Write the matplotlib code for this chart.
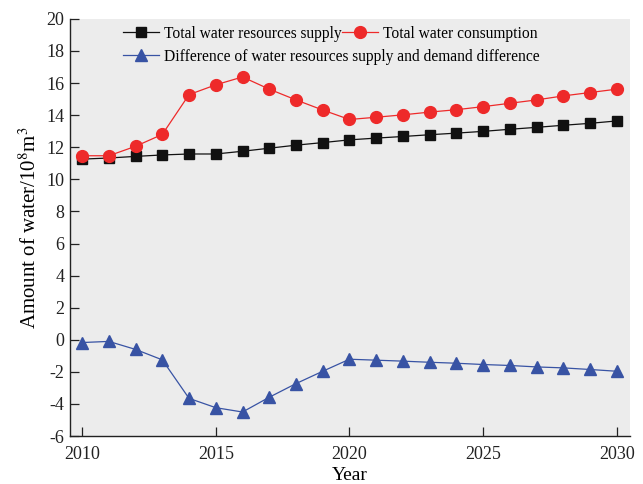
import matplotlib
matplotlib.use('Agg')
import matplotlib.pyplot as plt

plt.rcParams['font.family'] = ['Liberation Serif', 'DejaVu Serif']
plt.rcParams['mathtext.fontset'] = 'stix'
plt.rcParams['axes.unicode_minus'] = False

years = list(range(2010, 2031))
supply = [11.26, 11.33, 11.43, 11.52, 11.58, 11.58, 11.75, 11.94, 12.13, 12.29, 12.46,
          12.57, 12.67, 12.78, 12.88, 12.99, 13.12, 13.24, 13.37, 13.49, 13.64]
consumption = [11.47, 11.47, 12.06, 12.80, 15.28, 15.89, 16.38, 15.62, 14.95, 14.32, 13.73,
               13.87, 14.02, 14.19, 14.34, 14.53, 14.74, 14.95, 15.20, 15.41, 15.62]
difference = [-0.17, -0.10, -0.60, -1.25, -3.65, -4.23, -4.50, -3.58, -2.73, -1.96, -1.21,
              -1.27, -1.33, -1.40, -1.46, -1.54, -1.60, -1.69, -1.75, -1.85, -1.96]

label_supply = 'Total water resources supply'
label_consumption = 'Total water consumption'
label_difference = 'Difference of water resources supply and demand difference'

fig = plt.figure(figsize=(6.43, 4.84), dpi=100)
ax = fig.add_axes([0.109, 0.099, 0.871, 0.862])
ax.set_facecolor('#ececec')

l1, = ax.plot(years, supply, color='#111111', lw=0.9, marker='s', ms=7,
              label=label_supply)
l2, = ax.plot(years, consumption, color='#ee2a2a', lw=0.9, marker='o', ms=8.5,
              label=label_consumption)
l3, = ax.plot(years, difference, color='#3853a4', lw=0.9, marker='^', ms=9,
              label=label_difference)

ax.set_xlim(2009.55, 2030.5)
ax.set_ylim(-6, 20)
ax.set_xticks([2010, 2015, 2020, 2025, 2030])
ax.set_yticks(range(-6, 21, 2))
ax.tick_params(direction='in', length=6.5, width=0.9, labelsize=13, colors='#222222')
ax.tick_params(axis='x', pad=7)
ax.tick_params(axis='y', pad=4)
for side in ['top', 'right']:
    ax.spines[side].set_visible(False)
for side in ['left', 'bottom']:
    ax.spines[side].set_linewidth(1.0)
    ax.spines[side].set_color('#222222')

ax.set_xlabel('Year', fontsize=14, labelpad=3)
ax.set_ylabel('Amount of water/10$^{8}$m$^{3}$', fontsize=15, labelpad=4)

# first row: supply and consumption side by side, second row: difference
leg1 = ax.legend(handles=[l1, l2], ncol=2, loc='center left',
                 bbox_to_anchor=(0.094, 0.964), frameon=False, fontsize=11.2,
                 borderpad=0, borderaxespad=0, handlelength=2.35,
                 handletextpad=0.3, columnspacing=0.0)
ax.add_artist(leg1)
ax.legend(handles=[l3], loc='center left', bbox_to_anchor=(0.094, 0.909),
          frameon=False, fontsize=11.2, borderpad=0, borderaxespad=0,
          handlelength=2.35, handletextpad=0.3)

fig.savefig('out.png', dpi=100)
